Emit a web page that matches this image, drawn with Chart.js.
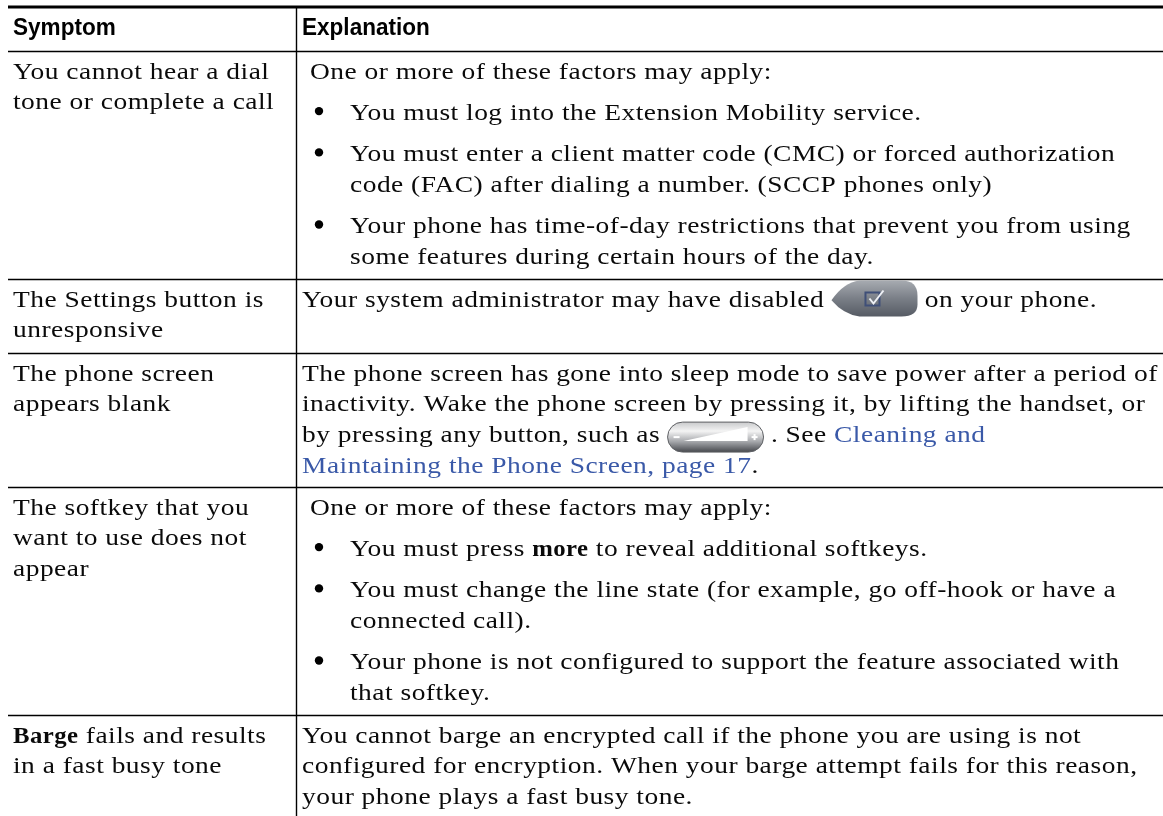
<!DOCTYPE html>
<html>
<head>
<meta charset="utf-8">
<style>
    html, body { margin: 0; padding: 0; background: #fff; }
    canvas { display: block; }
</style>
<script src="https://cdn.jsdelivr.net/npm/chart.js@4"></script>
</head>
<body>
<canvas id="table" width="1163" height="816"></canvas>
<script>
// table content
const headers = ['Symptom', 'Explanation'];

const symptoms = [
    ['You cannot hear a dial', 'tone or complete a call'],
    ['The Settings button is', 'unresponsive'],
    ['The phone screen', 'appears blank'],
    ['The softkey that you', 'want to use does not', 'appear'],
    ['*Barge* fails and results', 'in a fast busy tone']
];

// one entry per paragraph, "- " marks a bullet. *bold*, [link], {icon}
const explanations = [
    [['One or more of these factors may apply:'],
     ['- You must log into the Extension Mobility service.'],
     ['- You must enter a client matter code (CMC) or forced authorization', 'code (FAC) after dialing a number. (SCCP phones only)'],
     ['- Your phone has time-of-day restrictions that prevent you from using', 'some features during certain hours of the day.']],
    [['Your system administrator may have disabled {settings} on your phone.']],
    [['The phone screen has gone into sleep mode to save power after a period of',
      'inactivity. Wake the phone screen by pressing it, by lifting the handset, or',
      'by pressing any button, such as {volume} . See [Cleaning and]',
      '[Maintaining the Phone Screen, page 17].']],
    [['One or more of these factors may apply:'],
     ['- You must press *more* to reveal additional softkeys.'],
     ['- You must change the line state (for example, go off-hook or have a', 'connected call).'],
     ['- Your phone is not configured to support the feature associated with', 'that softkey.']],
    [['You cannot barge an encrypted call if the phone you are using is not',
      'configured for encryption. When your barge attempt fails for this reason,',
      'your phone plays a fast busy tone.']]
];

// rule positions
const rowEdges = [7, 51.5, 279.5, 353.5, 487.5, 715.5];
const columnEdge = 296.5;

const WIDTH = 1163;
const HEIGHT = 816;
const LEFT = 8;
const TEXT_X = 13;
const EXPL_X = 302;
const BULLET_X = 319;
const BULLET_TEXT_X = 350;
const FIRST_LINE = 27;
const LEADING = 30.8;
const PARA_GAP = 41.3;

const SERIF = '22.5px "Liberation Serif"';
const SERIF_BOLD = 'bold 22.5px "Liberation Serif"';
const HEADER = 'bold 23.5px "Liberation Sans"';
const SPACING = '0.4px';
const STRETCH = 1.22;
const BOLD_STRETCH = 1.1;
const HEADER_STRETCH = 0.96;

// work out where each text line and bullet sits, in table units
const textLines = [];
const bullets = [];

headers.forEach((h, i) => {
    textLines.push({ text: h, x: i === 0 ? TEXT_X : EXPL_X, y: 35, header: true });
});

symptoms.forEach((lines, row) => {
    lines.forEach((text, i) => {
        textLines.push({ text: text, x: TEXT_X, y: rowEdges[row + 1] + FIRST_LINE + i * LEADING });
    });
});

explanations.forEach((paragraphs, row) => {
    let y = rowEdges[row + 1] + FIRST_LINE;
    paragraphs.forEach((lines, p) => {
        const hasBullets = paragraphs.length > 1;
        lines.forEach((line, i) => {
            const isBullet = line.startsWith('- ');
            if (isBullet) {
                bullets.push({ x: BULLET_X, y: y - 8.7 });
            }
            let x = EXPL_X;
            if (hasBullets) {
                x = p === 0 ? EXPL_X + 8 : BULLET_TEXT_X;
            }
            textLines.push({ text: isBullet ? line.slice(2) : line, x: x, y: y });
            y += i < lines.length - 1 ? LEADING : PARA_GAP;
        });
    });
});

const ruleDataset = (points, width) => ({
    type: 'line',
    data: points,
    borderColor: '#000',
    borderWidth: width,
    pointRadius: 0,
    fill: false,
    tension: 0
});

const datasets = [
    ruleDataset([{ x: LEFT, y: rowEdges[0] }, { x: WIDTH, y: rowEdges[0] }], 3),
    ruleDataset([{ x: columnEdge, y: rowEdges[0] }, { x: columnEdge, y: HEIGHT }], 1.4)
];
rowEdges.slice(1).forEach((y) => {
    datasets.push(ruleDataset([{ x: LEFT, y: y }, { x: WIDTH, y: y }], 1.4));
});
datasets.push({
    type: 'scatter',
    data: bullets,
    backgroundColor: '#000',
    borderWidth: 0,
    pointRadius: 4.2,
    showLine: false
});

const roundedPath = (ctx, x, y, w, h) => {
    const r = h / 2;
    ctx.beginPath();
    ctx.moveTo(x + r, y);
    ctx.lineTo(x + w - r, y);
    ctx.arc(x + w - r, y + r, r, -Math.PI / 2, Math.PI / 2);
    ctx.lineTo(x + r, y + h);
    ctx.arc(x + r, y + r, r, Math.PI / 2, Math.PI * 1.5);
    ctx.closePath();
};

const drawSettingsIcon = (ctx, x, baseline) => {
    const w = 86, h = 36, y = baseline - 26;
    const grad = ctx.createLinearGradient(0, y, 0, y + h);
    grad.addColorStop(0, '#a7abb1');
    grad.addColorStop(0.5, '#7a7f87');
    grad.addColorStop(1, '#565b64');
    ctx.fillStyle = grad;
    ctx.beginPath();
    ctx.moveTo(x, y + h * 0.55);
    ctx.quadraticCurveTo(x + 12, y + 2, x + 28, y);
    ctx.lineTo(x + w - 16, y);
    ctx.quadraticCurveTo(x + w, y, x + w, y + 15);
    ctx.lineTo(x + w, y + h - 12);
    ctx.quadraticCurveTo(x + w, y + h, x + w - 16, y + h);
    ctx.lineTo(x + 28, y + h);
    ctx.quadraticCurveTo(x + 12, y + h - 2, x, y + h * 0.55);
    ctx.fill();
    // check box
    ctx.strokeStyle = '#3f4f78';
    ctx.lineWidth = 2;
    ctx.strokeRect(x + 34, y + 12, 14, 13);
    ctx.strokeStyle = '#eef0f5';
    ctx.beginPath();
    ctx.moveTo(x + 38, y + 18);
    ctx.lineTo(x + 42, y + 23);
    ctx.lineTo(x + 52, y + 10);
    ctx.stroke();
    return w;
};

const drawVolumeIcon = (ctx, x, baseline) => {
    const w = 96, h = 30, y = baseline - 20;
    const grad = ctx.createLinearGradient(0, y, 0, y + h);
    grad.addColorStop(0, '#c9cacc');
    grad.addColorStop(0.3, '#f4f4f4');
    grad.addColorStop(0.65, '#a5a7ab');
    grad.addColorStop(1, '#47494e');
    ctx.fillStyle = grad;
    roundedPath(ctx, x, y, w, h);
    ctx.fill();
    ctx.strokeStyle = '#5e6064';
    ctx.lineWidth = 1;
    ctx.stroke();
    // white wedge growing to the right
    ctx.fillStyle = '#fff';
    ctx.beginPath();
    ctx.moveTo(x + 16, y + h - 11);
    ctx.lineTo(x + w - 16, y + 5);
    ctx.lineTo(x + w - 16, y + h - 11);
    ctx.closePath();
    ctx.fill();
    ctx.fillRect(x + 6, y + h / 2 - 1, 6, 2);
    ctx.fillRect(x + w - 12, y + h / 2 - 1, 6, 2);
    ctx.fillRect(x + w - 10, y + h / 2 - 3, 2, 6);
    return w;
};

const icons = { settings: drawSettingsIcon, volume: drawVolumeIcon };

// splits a line like "*more* to [see]" into styled pieces
const splitRuns = (line) => {
    const runs = [];
    const re = /\*([^*]+)\*|\[([^\]]+)\]|\{([^}]+)\}|([^*[{]+)/g;
    let m;
    while ((m = re.exec(line)) !== null) {
        if (m[1]) runs.push({ text: m[1], bold: true });
        else if (m[2]) runs.push({ text: m[2], link: true });
        else if (m[3]) runs.push({ icon: m[3] });
        else runs.push({ text: m[4] });
    }
    return runs;
};

// the reference type is wider than any installed serif, so stretch it
const stretchedText = (ctx, text, x, y, stretch) => {
    ctx.save();
    ctx.translate(x, y);
    ctx.scale(stretch, 1);
    ctx.fillText(text, 0, 0);
    ctx.restore();
    return ctx.measureText(text).width * stretch;
};

const tableText = {
    id: 'tableText',
    afterDatasetsDraw(chart) {
        const ctx = chart.ctx;
        const xs = chart.scales.x;
        const ys = chart.scales.y;
        ctx.save();
        ctx.textBaseline = 'alphabetic';
        textLines.forEach((line) => {
            let x = xs.getPixelForValue(line.x);
            const y = ys.getPixelForValue(line.y);
            if (line.header) {
                ctx.letterSpacing = '0px';
                ctx.font = HEADER;
                ctx.fillStyle = '#000';
                stretchedText(ctx, line.text, x, y, HEADER_STRETCH);
                return;
            }
            ctx.letterSpacing = SPACING;
            splitRuns(line.text).forEach((run) => {
                if (run.icon) {
                    x += icons[run.icon](ctx, x, y);
                    return;
                }
                ctx.font = run.bold ? SERIF_BOLD : SERIF;
                ctx.fillStyle = run.link ? '#3a59a8' : '#0a0a0a';
                x += stretchedText(ctx, run.text, x, y, run.bold ? BOLD_STRETCH : STRETCH);
            });
        });
        ctx.restore();
    }
};

new Chart(document.getElementById('table'), {
    type: 'scatter',
    data: { datasets: datasets },
    plugins: [tableText],
    options: {
        responsive: false,
        animation: false,
        layout: { padding: 0, autoPadding: false },
        plugins: {
            legend: { display: false },
            title: { display: false },
            tooltip: { enabled: false }
        },
        scales: {
            x: { type: 'linear', display: false, min: 0, max: WIDTH },
            y: { type: 'linear', display: false, min: 0, max: HEIGHT, reverse: true }
        }
    },
});
</script>
</body>
</html>
